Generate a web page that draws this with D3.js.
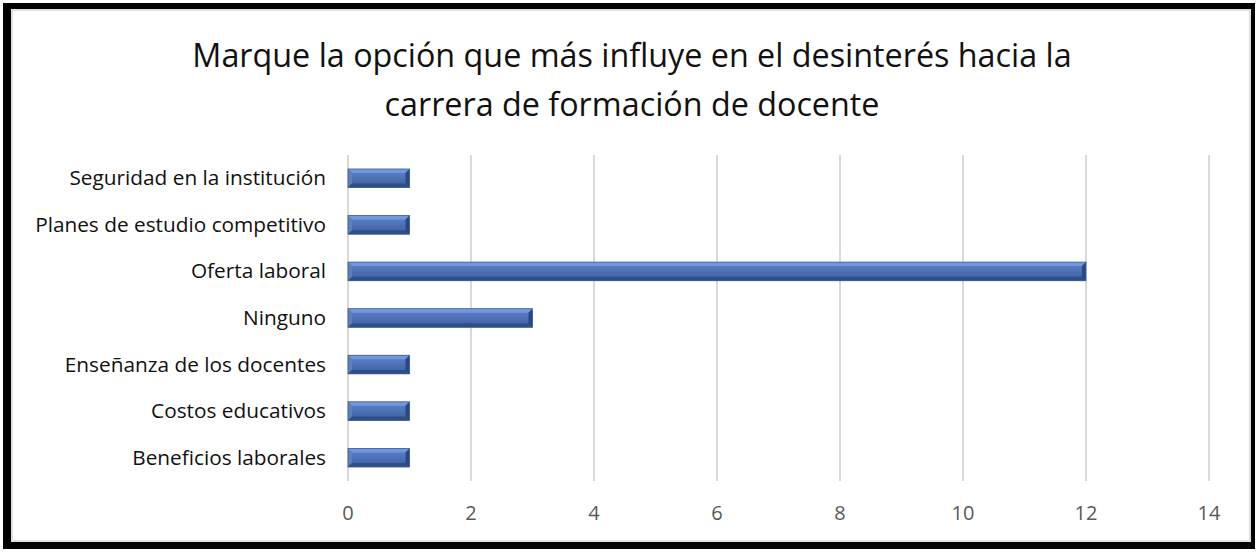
<!DOCTYPE html>
<html>
<head>
<meta charset="utf-8">
<script src="https://cdn.jsdelivr.net/npm/d3@7"></script>
<style>
  body { margin: 0; background: #fff; }
  svg { display: block; }
</style>
</head>
<body>
<svg width="1258" height="552"></svg>
<script>
// chart data
var categories = ["Seguridad en la institución", "Planes de estudio competitivo", "Oferta laboral",
                  "Ninguno", "Enseñanza de los docentes", "Costos educativos", "Beneficios laborales"];
var values = [1, 1, 12, 3, 1, 1, 1];
var ticks = [0, 2, 4, 6, 8, 10, 12, 14];
var titleLines = ["Marque la opción que más influye en el desinterés hacia la",
                  "carrera de formación de docente"];

var svg = d3.select("svg"),
    width = +svg.attr("width"),
    height = +svg.attr("height");

var font = "'Open Sans', sans-serif";

// frame
svg.append("rect").attr("x", 3).attr("y", 3).attr("width", 1252).attr("height", 546).attr("fill", "#000");
svg.append("rect").attr("x", 12).attr("y", 10).attr("width", 1238).attr("height", 531)
    .attr("fill", "#fff").attr("stroke", "#e0e0e0").attr("stroke-width", 2);

// title
svg.append("g").selectAll("text")
  .data(titleLines)
  .enter().append("text")
    .attr("x", 632)
    .attr("y", function(d, i) { return 67 + i * 49; })
    .attr("text-anchor", "middle")
    .attr("font-family", font)
    .attr("font-size", 32.3)
    .attr("fill", "#111")
    .text(function(d) { return d; });

var x = d3.scaleLinear().domain([0, 14]).range([348, 1209]);
var y = d3.scaleBand().domain(categories).range([155, 481]).paddingInner(0.6).paddingOuter(0.3);

// gridlines
svg.append("g").selectAll("line")
  .data(ticks)
  .enter().append("line")
    .attr("x1", function(d) { return x(d); })
    .attr("x2", function(d) { return x(d); })
    .attr("y1", 155).attr("y2", 481)
    .attr("stroke", "#d9d9d9").attr("stroke-width", 2);

// x axis labels
svg.append("g").selectAll("text")
  .data(ticks)
  .enter().append("text")
    .attr("x", function(d) { return x(d); })
    .attr("y", 520)
    .attr("text-anchor", "middle")
    .attr("font-family", font)
    .attr("font-size", 20)
    .attr("fill", "#595959")
    .text(function(d) { return d; });

// category labels
svg.append("g").selectAll("text")
  .data(categories)
  .enter().append("text")
    .attr("x", 326)
    .attr("y", function(d) { return y(d) + y.bandwidth() / 2 + 7; })
    .attr("text-anchor", "end")
    .attr("font-family", font)
    .attr("font-size", 20.8)
    .attr("fill", "#111")
    .text(function(d) { return d; });

// bevelled bars
var defs = svg.append("defs");
var grad = defs.append("linearGradient").attr("id", "barGrad")
    .attr("x1", 0).attr("y1", 0).attr("x2", 0).attr("y2", 1);
grad.append("stop").attr("offset", "0%").attr("stop-color", "#5f84cc");
grad.append("stop").attr("offset", "100%").attr("stop-color", "#3c5e9e");

var bev = 4;
var bars = svg.append("g").selectAll("g")
  .data(categories.map(function(c, i) { return {cat: c, v: values[i]}; }))
  .enter().append("g");

bars.each(function(d) {
  var g = d3.select(this),
      x0 = x(0), x1 = x(d.v),
      y0 = y(d.cat), y1 = y0 + y.bandwidth();
  g.append("rect").attr("x", x0).attr("y", y0).attr("width", x1 - x0).attr("height", y1 - y0)
    .attr("fill", "url(#barGrad)");
  // top edge
  g.append("polygon")
    .attr("points", [[x0, y0], [x1, y0], [x1 - bev, y0 + bev], [x0 + bev, y0 + bev]].join(" "))
    .attr("fill", "#7297dc");
  // left edge
  g.append("polygon")
    .attr("points", [[x0, y0], [x0 + bev, y0 + bev], [x0 + bev, y1 - bev], [x0, y1]].join(" "))
    .attr("fill", "#5b7fc4");
  // bottom edge
  g.append("polygon")
    .attr("points", [[x0, y1], [x0 + bev, y1 - bev], [x1 - bev, y1 - bev], [x1, y1]].join(" "))
    .attr("fill", "#2f4e88");
  // right edge
  g.append("polygon")
    .attr("points", [[x1, y0], [x1 - bev, y0 + bev], [x1 - bev, y1 - bev], [x1, y1]].join(" "))
    .attr("fill", "#2a4780");
  g.append("rect").attr("x", x0).attr("y", y0).attr("width", x1 - x0).attr("height", y1 - y0)
    .attr("fill", "none").attr("stroke", "#3f5f9c").attr("stroke-width", 0.8);
});
</script>
</body>
</html>
